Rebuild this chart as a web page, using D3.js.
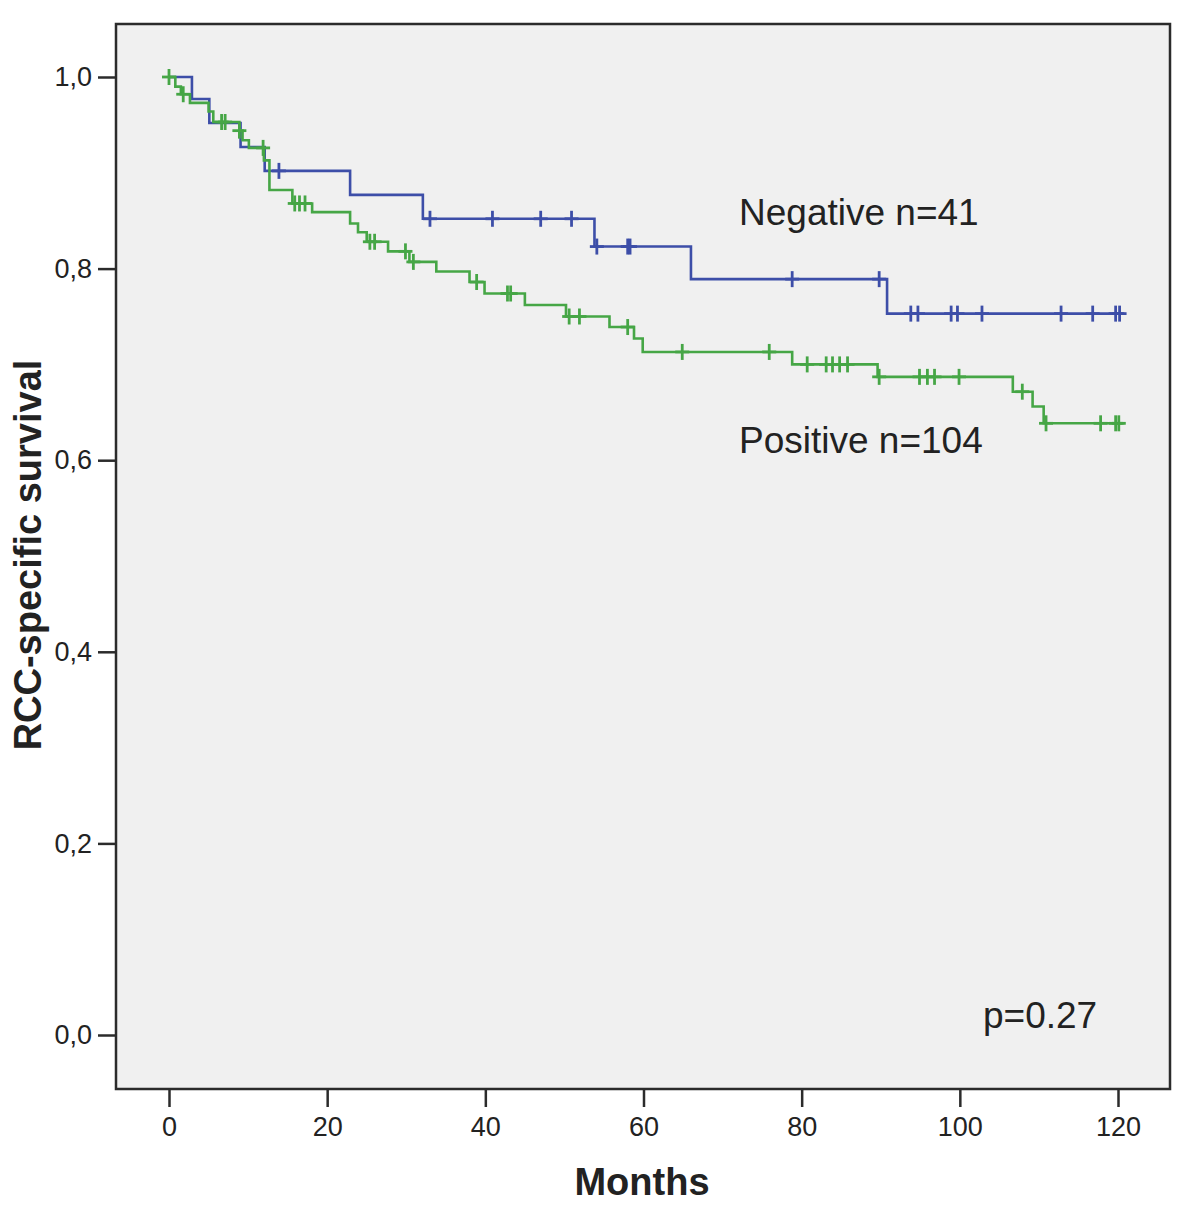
<!DOCTYPE html>
<html><head><meta charset="utf-8">
<script src="https://cdn.jsdelivr.net/npm/d3@7"></script>
<style>body{margin:0;background:#fff}svg{display:block}</style>
</head><body>
<script>
// ---- data ----
const xTicks = [0, 20, 40, 60, 80, 100, 120];
const yTicks = [0, 0.2, 0.4, 0.6, 0.8, 1.0];
const yTickLabels = ["0,0", "0,2", "0,4", "0,6", "0,8", "1,0"];
const followEnd = 120.8;

// Negative group (n=41): event times and survival after each event
const negTimes = [2.9, 5.1, 9.05, 12.1, 22.9, 32.1, 53.8, 66.0, 90.8];
const negSurv  = [0.977, 0.952, 0.927, 0.902, 0.877, 0.852, 0.823, 0.789, 0.753];
const negCensor = [13.9, 33.0, 40.9, 47.0, 50.9, 54.1, 58.0, 58.3, 78.8, 89.8, 93.8, 94.7, 98.9, 99.7, 102.8, 112.8, 116.8, 119.7, 120.2];

// Positive group (n=104)
const posTimes = [0.8, 1.5, 2.65, 5.0, 5.6, 8.9, 9.3, 10.1, 12.0, 12.7, 15.6, 18.1, 22.9, 23.9, 25.0, 27.7, 30.4, 33.8, 38.0, 39.9, 45.0, 50.2, 55.7, 58.8, 59.9, 78.8, 89.6, 106.7, 109.2, 110.6];
const posSurv  = [0.990, 0.982, 0.973, 0.964, 0.953, 0.944, 0.934, 0.926, 0.913, 0.882, 0.868, 0.859, 0.847, 0.838, 0.828, 0.818, 0.807, 0.797, 0.786, 0.774, 0.762, 0.750, 0.739, 0.727, 0.713, 0.700, 0.687, 0.6715, 0.656, 0.6385];
const posCensor = [0.0, 1.8, 6.65, 7.1, 8.9, 11.9, 15.9, 16.5, 17.2, 25.4, 26.0, 29.9, 30.9, 38.9, 42.8, 43.2, 50.6, 51.9, 58.0, 64.9, 75.9, 80.7, 83.1, 83.9, 84.8, 85.8, 89.8, 94.9, 95.9, 96.8, 99.9, 107.9, 110.9, 117.8, 119.7, 120.1];

const groupNames = ["Negative n=41", "Positive n=104"];
const colors = ["#3d4ea8", "#46a646"];

// ---- layout ----
const W = 1200, H = 1215;
const frame = {l: 116, t: 24, r: 1170, b: 1089};
const svg = d3.select("body").append("svg").attr("width", W).attr("height", H);
const x = d3.scaleLinear().domain([0, 120]).range([169, 1118]);
const y = d3.scaleLinear().domain([0, 1]).range([1035, 77]);
const font = "'Liberation Sans', Arial, sans-serif";

svg.append("rect").attr("x", frame.l).attr("y", frame.t)
  .attr("width", frame.r - frame.l).attr("height", frame.b - frame.t)
  .attr("fill", "#f0f0f0").attr("stroke", "#2b2b2b").attr("stroke-width", 2.5);

// y axis
const yAxis = d3.axisLeft(y).tickValues(yTicks)
  .tickFormat((d, i) => yTickLabels[i]).tickSize(18).tickPadding(6);
const gy = svg.append("g").attr("transform", `translate(${frame.l},0)`).call(yAxis);
gy.select(".domain").remove();
gy.selectAll(".tick line").attr("stroke", "#2b2b2b").attr("stroke-width", 2.5);
gy.selectAll(".tick text").attr("font-family", font).attr("font-size", 27).attr("fill", "#222");

// x axis
const xAxis = d3.axisBottom(x).tickValues(xTicks).tickSize(18).tickPadding(10);
const gx = svg.append("g").attr("transform", `translate(0,${frame.b})`).call(xAxis);
gx.select(".domain").remove();
gx.selectAll(".tick line").attr("stroke", "#2b2b2b").attr("stroke-width", 2.5);
gx.selectAll(".tick text").attr("font-family", font).attr("font-size", 27).attr("fill", "#222");

// titles
svg.append("text").attr("x", 642).attr("y", 1195).attr("text-anchor", "middle")
  .attr("font-family", font).attr("font-weight", "bold").attr("font-size", 38).attr("fill", "#222")
  .text("Months");
svg.append("text").attr("transform", "translate(41,555) rotate(-90)").attr("text-anchor", "middle")
  .attr("font-family", font).attr("font-weight", "bold").attr("font-size", 38).attr("fill", "#222")
  .text("RCC-specific survival");

// curves
function survAt(times, surv, t) {
  let s = 1;
  for (let i = 0; i < times.length; i++) if (times[i] <= t) s = surv[i];
  return s;
}
const line = d3.line().x(d => x(d[0])).y(d => y(d[1])).curve(d3.curveStepAfter);
const groups = [
  {times: negTimes, surv: negSurv, censor: negCensor},
  {times: posTimes, surv: posSurv, censor: posCensor}
];
groups.forEach((g, gi) => {
  const pts = [[0, 1]].concat(g.times.map((t, i) => [t, g.surv[i]]));
  pts.push([followEnd, g.surv[g.surv.length - 1]]);
  const gg = svg.append("g");
  gg.append("path").attr("d", line(pts)).attr("fill", "none")
    .attr("stroke", colors[gi]).attr("stroke-width", 2.6);
  g.censor.forEach(t => {
    const cx = x(t), cy = y(survAt(g.times, g.surv, t));
    gg.append("line").attr("x1", cx).attr("x2", cx).attr("y1", cy - 8).attr("y2", cy + 8)
      .attr("stroke", colors[gi]).attr("stroke-width", 2.8);
    gg.append("line").attr("x1", cx - 7).attr("x2", cx + 7).attr("y1", cy).attr("y2", cy)
      .attr("stroke", colors[gi]).attr("stroke-width", 2.8);
  });
});

// annotations
svg.append("text").attr("x", 739).attr("y", 225).attr("font-family", font).attr("font-size", 37).attr("fill", "#222").text(groupNames[0]);
svg.append("text").attr("x", 739).attr("y", 453).attr("font-family", font).attr("font-size", 37).attr("fill", "#222").text(groupNames[1]);
svg.append("text").attr("x", 983).attr("y", 1028).attr("font-family", font).attr("font-size", 37).attr("fill", "#222").text("p=0.27");
</script>
</body></html>
